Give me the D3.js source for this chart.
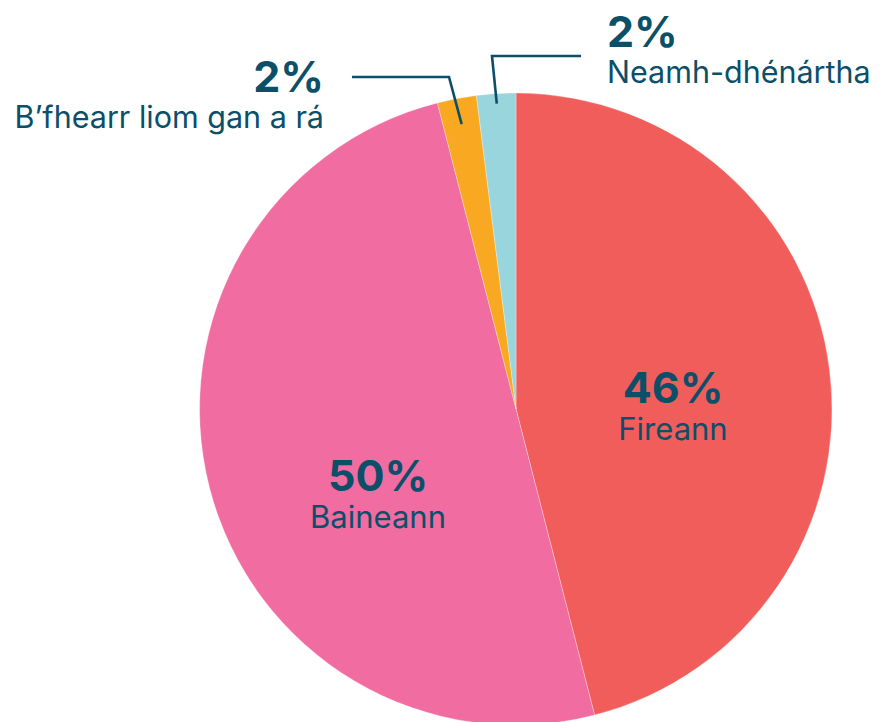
<!DOCTYPE html>
<html>
<head>
	<meta charset="utf-8">
	<title>pie with d3</title>
	<style>
		html, body { margin: 0; padding: 0; background: #fff; }
		svg { display: block; }
		text { font-family: Inter, "Noto Sans", sans-serif; fill: #0b4f69; }
	</style>
</head>
<body>
<div class="svg-pie"></div>
<script src="https://cdn.jsdelivr.net/npm/d3@7"></script>
<script>
	// original data
	let categories = ["Fireann", "Baineann", "B’fhearr liom gan a rá", "Neamh-dhénártha"];
	let values = [46, 50, 2, 2];
	let valueLabels = ["46%", "50%", "2%", "2%"];
	let colors = ["#f05d5b", "#f06ca1", "#f8a821", "#98d5dc"];

	window.onload = function(){
		showPie();
	}

	function showPie(){
		// canvas setting
		let width = 885;
		let height = 722;
		let center = {"x": 516, "y": 409};
		let radius = 316;

		let svg = d3.select(".svg-pie").append("svg")
			.attr("width", width)
			.attr("height", height);

		let g = svg.append("g")
			.attr("transform", "translate(" + center.x + "," + center.y + ")");

		let pie = d3.pie().sort(null).value(d => d);
		let arcs = pie(values);
		let arc = d3.arc().innerRadius(0).outerRadius(radius);

		// slices
		g.selectAll("path.slice")
			.data(arcs)
			.enter()
			.append("path")
			.attr("class", "slice")
			.attr("d", arc)
			.attr("fill", (d, i) => colors[i])
			.attr("stroke", "#fff")
			.attr("stroke-width", 0.3);

		// point on a circle for a given angle (0 = top, clockwise)
		let pt = (a, r) => [Math.sin(a) * r, -Math.cos(a) * r];
		let mid = d => (d.startAngle + d.endAngle) / 2;

		// big inside labels
		let inside = [
			{"i": 0, "x": 673, "y": 403},
			{"i": 1, "x": 378, "y": 491}
		];
		inside.forEach(l => {
			let t = svg.append("text")
				.attr("x", l.x)
				.attr("y", l.y)
				.attr("text-anchor", "middle");
			t.append("tspan")
				.attr("font-size", 43)
				.attr("font-weight", 700)
				.text(valueLabels[l.i]);
			t.append("tspan")
				.attr("x", l.x)
				.attr("dy", 37)
				.attr("font-size", 31)
				.text(categories[l.i]);
		});

		// outside labels with leader lines
		let outside = [
			{"i": 2, "r": 290, "elbow": [449, 77], "end": [352, 77], "tx": 324, "ty": 92, "anchor": "end"},
			{"i": 3, "r": 306, "elbow": [492, 56], "end": [581, 56], "tx": 607, "ty": 47, "anchor": "start"}
		];
		outside.forEach(l => {
			let p = pt(mid(arcs[l.i]), l.r);
			let start = [center.x + p[0], center.y + p[1]];
			svg.append("path")
				.attr("d", d3.line()([start, l.elbow, l.end]))
				.attr("fill", "none")
				.attr("stroke", "#0b4f69")
				.attr("stroke-width", 2.6);
			let t = svg.append("text")
				.attr("x", l.tx)
				.attr("y", l.ty)
				.attr("text-anchor", l.anchor);
			t.append("tspan")
				.attr("font-size", 43)
				.attr("font-weight", 700)
				.text(valueLabels[l.i]);
			t.append("tspan")
				.attr("x", l.tx)
				.attr("dy", 36)
				.attr("font-size", 30.5)
				.text(categories[l.i]);
		});
	}
</script>
</body>
</html>
